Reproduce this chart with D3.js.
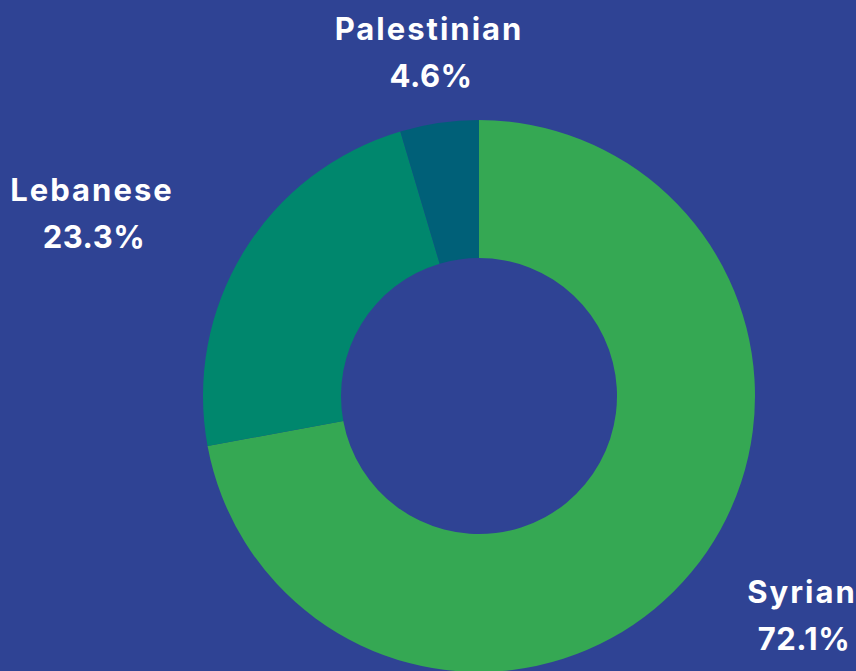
<!DOCTYPE html>
<html lang="en">
<head>
    <meta charset="UTF-8">
    <title>Nationality share</title>
    <style>
        html, body { margin: 0; padding: 0; background: #2f4394; }
        svg { display: block; }
        .lbl { fill: #ffffff; font-family: Inter, "Open Sans", sans-serif; font-weight: 700; font-size: 31px; }
        .nm { letter-spacing: 2px; }
        .pc { letter-spacing: 0.5px; }
    </style>
</head>
<body>
    <div id="chart"></div>

    <script src="https://d3js.org/d3.v7.min.js"></script>
    <script type="text/javascript">
const categories = ["Syrian", "Lebanese", "Palestinian"];
const shares = [72.1, 23.3, 4.6];
const colours = ["#35a853", "#00876d", "#006078"];

const width = 856;
const height = 671;
const cx = 479, cy = 396;
const outerR = 276, innerR = 138;

const svg = d3.select("#chart")
    .append("svg")
    .attr("width", width)
    .attr("height", height);

svg.append("rect").attr("width", width).attr("height", height).attr("fill", "#2f4394");

const data = categories.map((c, i) => ({ name: c, value: shares[i], colour: colours[i] }));

const pie = d3.pie().sort(null).value(d => d.value);
const arc = d3.arc().innerRadius(innerR).outerRadius(outerR);

const g = svg.append("g").attr("transform", `translate(${cx},${cy})`);

g.selectAll("path")
    .data(pie(data))
    .enter()
    .append("path")
    .attr("d", arc)
    .attr("fill", d => d.data.colour);

// label anchors (centre of the two-line label, first baseline)
const labelPos = {
    Syrian: [802, 603],
    Lebanese: [92, 201],
    Palestinian: [429, 40]
};

const labels = svg.selectAll(".lab")
    .data(data)
    .enter()
    .append("text")
    .attr("class", "lbl")
    .attr("text-anchor", "middle")
    .attr("transform", d => `translate(${labelPos[d.name][0]},${labelPos[d.name][1]})`);

labels.append("tspan").attr("class", "nm").attr("x", 0).attr("y", 0).text(d => d.name);
labels.append("tspan").attr("class", "pc").attr("x", 2).attr("y", 47).text(d => d.value.toFixed(1) + "%");
    </script>
</body>
</html>
